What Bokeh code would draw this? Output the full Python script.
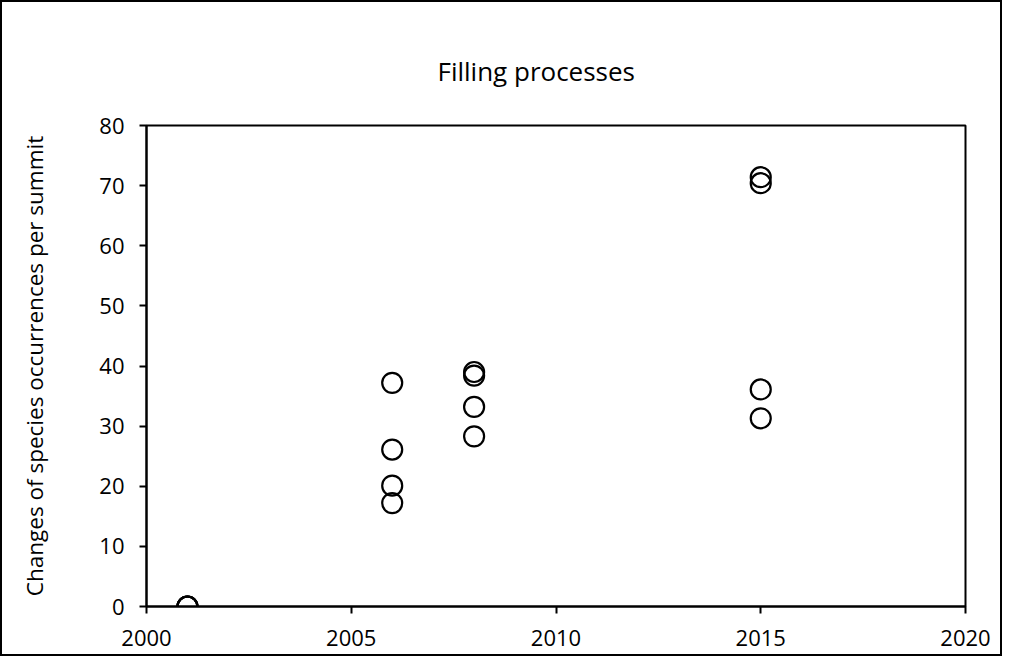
from bokeh.plotting import figure
from bokeh.models import Range1d, FixedTicker
from bokeh.embed import file_html
from bokeh.resources import INLINE

years = [2001, 2001, 2001, 2001,
         2006, 2006, 2006, 2006,
         2008, 2008, 2008, 2008,
         2015, 2015, 2015, 2015]
changes = [0, 0, 0, 0,
           37.2, 26.1, 20.1, 17.2,
           39.0, 38.4, 33.2, 28.3,
           71.4, 70.4, 36.1, 31.3]
x_ticks = [2000, 2005, 2010, 2015, 2020]
y_ticks = [0, 10, 20, 30, 40, 50, 60, 70, 80]

FONT = "Open Sans"

p = figure(width=1002, height=656, output_backend="svg", toolbar_location=None,
           x_range=Range1d(2000, 2020), y_range=Range1d(0, 80),
           min_border_left=144, min_border_right=39, min_border_top=123,
           min_border_bottom=52)
p.styles = {"border": "2px solid black", "box-sizing": "border-box"}

p.scatter(years, changes, marker="circle", size=20, fill_color=None,
          line_color="black", line_width=2.2)

p.title.text = "Filling processes"
p.title.text_font = FONT
p.title.text_font_size = "26px"
p.title.text_font_style = "normal"
p.title.text_color = "black"
p.title.align = "left"
p.title.offset = 291
p.title.standoff = 74

p.grid.visible = False
p.outline_line_color = "black"
p.outline_line_width = 2
p.outline_line_alpha = 1

p.xaxis.ticker = FixedTicker(ticks=x_ticks)
p.yaxis.ticker = FixedTicker(ticks=y_ticks)
for ax in (p.xaxis, p.yaxis):
    ax.axis_line_color = "black"
    ax.axis_line_width = 2
    ax.major_tick_line_color = "black"
    ax.major_tick_line_width = 2
    ax.major_tick_out = 7
    ax.major_tick_in = 0
    ax.minor_tick_line_color = None
    ax.major_label_text_font = FONT
    ax.major_label_text_font_size = "22px"
    ax.major_label_text_color = "black"

p.xaxis.major_label_standoff = 16
p.yaxis.major_label_standoff = 15
p.yaxis.axis_label = "Changes of species occurrences per summit"
p.yaxis.axis_label_text_font = FONT
p.yaxis.axis_label_text_font_size = "22.5px"
p.yaxis.axis_label_text_font_style = "normal"
p.yaxis.axis_label_text_color = "black"
p.yaxis.axis_label_standoff = 46

open("out.html", "w").write(file_html(p, INLINE))
